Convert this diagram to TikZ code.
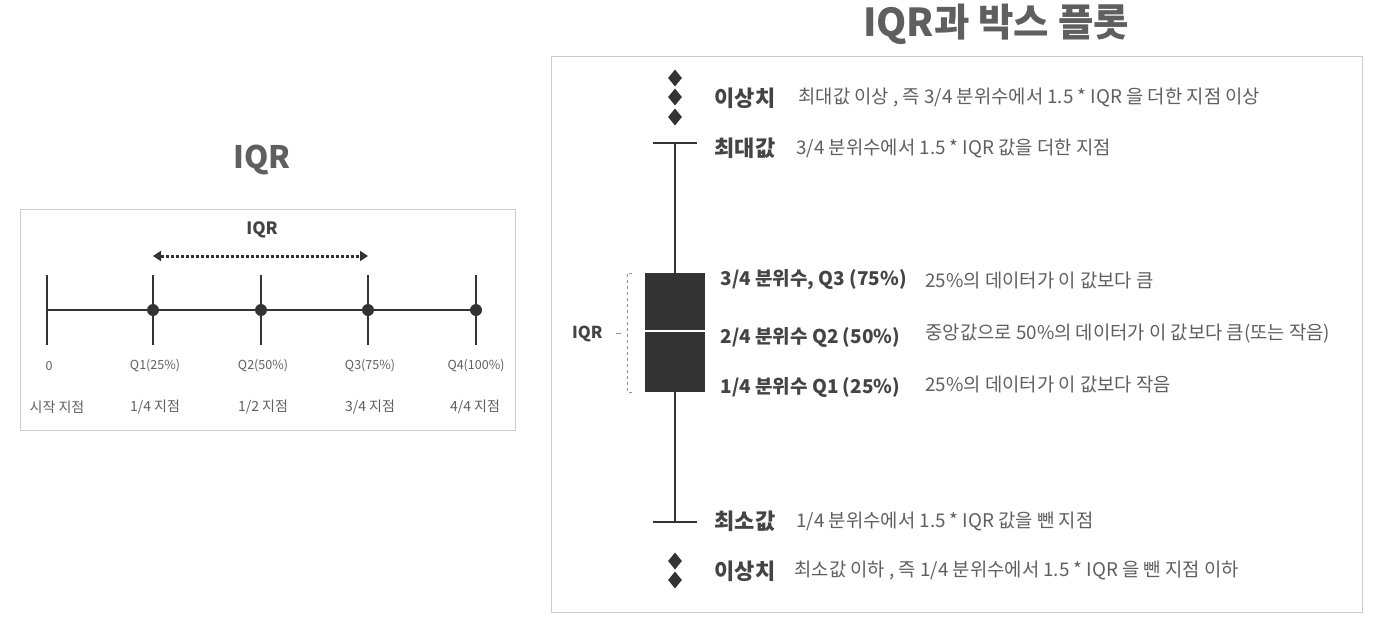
\documentclass[tikz,border=0pt]{standalone}
\usepackage{fontspec}
\setmainfont{Noto Sans CJK KR}
\usetikzlibrary{shapes.geometric,arrows.meta}
\definecolor{ink}{HTML}{333333}
\definecolor{txt}{HTML}{5F5F5F}
\definecolor{keytxt}{HTML}{444444}
\definecolor{frame}{HTML}{CCCCCC}

\begin{document}
\begin{tikzpicture}[x=1pt,y=-1pt,
  axis/.style={ink, line width=1.6pt},
  whisker/.style={ink, line width=2.8pt},
  qdot/.style={circle, fill=ink, inner sep=0pt, minimum size=12pt},
  outlier/.style={diamond, fill=ink, inner sep=0pt, minimum width=14pt, minimum height=17pt},
  small/.style={txt, font=\fontsize{12.5}{14}\selectfont},
  spot/.style={txt, font=\fontsize{14}{16}\selectfont},
  key/.style={anchor=west, keytxt, font=\fontsize{19}{22}\selectfont\bfseries},
  bigkey/.style={key, font=\fontsize{22}{24}\selectfont\bfseries},
  desc/.style={anchor=west, txt, font=\fontsize{18.8}{21}\selectfont}]

  \useasboundingbox (0,0) rectangle (1393,630);

  % left panel : IQR on a line
  \node[txt, font=\fontsize{31}{34}\selectfont\bfseries] (ltitle) at (262,160) {IQR};
  \draw[frame, line width=1pt] (20,209) rectangle (515,430);

  \draw[axis] (47,310) -- (476,310);
  \draw[axis] (47,275) -- (47,345);
  \draw[axis] (153,275) -- (153,345);
  \draw[axis] (261,275) -- (261,345);
  \draw[axis] (368,275) -- (368,345);
  \draw[axis] (476,275) -- (476,345);
  \node[qdot] (q1) at (153,310) {};
  \node[qdot] (q2) at (261,310) {};
  \node[qdot] (q3) at (368,310) {};
  \node[qdot] (q4) at (476,310) {};

  \node[small] (n0) at (49,366) {0};
  \node[small] (n1) at (155,366) {Q1(25\%)};
  \node[small] (n2) at (263,366) {Q2(50\%)};
  \node[small] (n3) at (370,366) {Q3(75\%)};
  \node[small] (n4) at (476,366) {Q4(100\%)};
  \node[spot] (p0) at (57,407) {시작 지점};
  \node[spot] (p1) at (155,407) {1/4 지점};
  \node[spot] (p2) at (263,407) {1/2 지점};
  \node[spot] (p3) at (370,407) {3/4 지점};
  \node[spot] (p4) at (475,407) {4/4 지점};

  \node[keytxt, font=\fontsize{17}{19}\selectfont\bfseries] (liqr) at (262,230) {IQR};
  \coordinate (al) at (153,256);
  \coordinate (ar) at (368,256);
  \draw[ink, line width=3pt, dotted, {Triangle[length=8pt,width=10pt]}-{Triangle[length=8pt,width=10pt]}] (al) -- (ar);

  % right panel : box plot
  \node[txt, font=\fontsize{38.5}{42}\selectfont\bfseries] (rtitle) at (996,24) {IQR과 박스 플롯};
  \draw[frame, line width=1pt] (551,56) rectangle (1362,612);

  \node[outlier] (o1) at (675,78) {};
  \node[outlier] (o2) at (675,97) {};
  \node[outlier] (o3) at (675,117) {};
  \node[outlier] (o4) at (675,561) {};
  \node[outlier] (o5) at (675,580) {};

  \draw[whisker] (653,143) -- (697,143);
  \draw[whisker] (675,143) -- (675,273);
  \draw[whisker] (675,392) -- (675,522);
  \draw[whisker] (653,522) -- (697,522);
  \fill[ink] (645,273) rectangle (705,392);
  \draw[white, line width=1.6pt] (645,331) -- (705,331);

  \draw[frame!70!black, dashed, line width=0.8pt] (632,273) -- (627,273) -- (627,392) -- (632,392);
  \draw[frame!70!black, line width=0.8pt] (616,333) -- (621,333);
  \node[keytxt, font=\fontsize{16.5}{18}\selectfont\bfseries, anchor=east] (biqr) at (606,334) {IQR};

  \node[bigkey] (kout1) at (711,98) {이상치};
  \node[desc] at (795,98) {최대값 이상 , 즉 3/4 분위수에서 1.5 * IQR 을 더한 지점 이상};
  \node[bigkey] (kmax) at (711,148) {최대값};
  \node[desc] at (793,148) {3/4 분위수에서 1.5 * IQR 값을 더한 지점};
  \node[key] (kq3) at (717,280) {3/4 분위수, Q3 (75\%)};
  \node[desc] at (922,280) {25\%의 데이터가 이 값보다 큼};
  \node[key] (kq2) at (717,337) {2/4 분위수 Q2 (50\%)};
  \node[desc] at (922,334) {중앙값으로 50\%의 데이터가 이 값보다 큼(또는 작음)};
  \node[key] (kq1) at (717,387) {1/4 분위수 Q1 (25\%)};
  \node[desc] at (922,384) {25\%의 데이터가 이 값보다 작음};
  \node[bigkey] (kmin) at (711,521) {최소값};
  \node[desc] at (793,521) {1/4 분위수에서 1.5 * IQR 값을 뺀 지점};
  \node[bigkey] (kout2) at (711,571) {이상치};
  \node[desc] at (791,571) {최소값 이하 , 즉 1/4 분위수에서 1.5 * IQR 을 뺀 지점 이하};

\end{tikzpicture}
\end{document}
